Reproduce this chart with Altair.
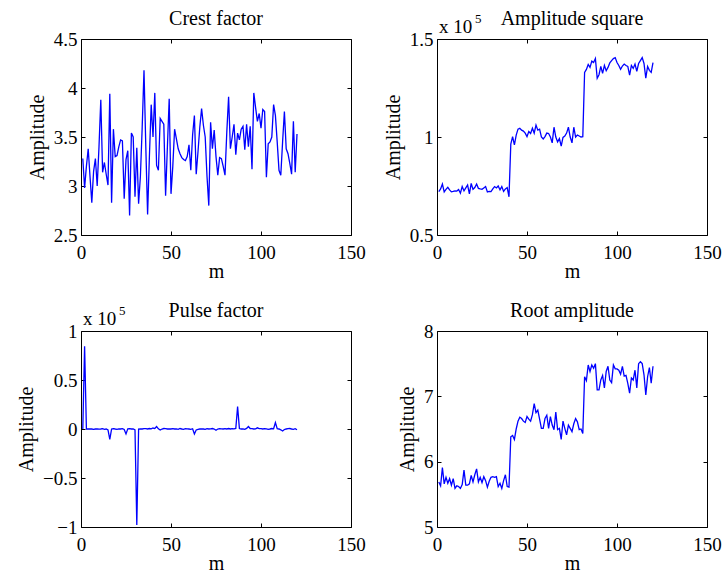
import altair as alt
import pandas as pd

# ---------------- data ----------------
m = list(range(1, 121))

crest = [3.28, 2.98, 3.20, 3.38, 3.10, 2.83, 3.15, 3.28, 3.00, 3.40,
         3.88, 3.14, 3.24, 3.12, 3.01, 3.94, 2.83, 3.58, 3.30, 3.31,
         3.40, 3.47, 3.46, 2.87, 3.27, 3.36, 2.70, 3.54, 3.50, 2.89,
         3.39, 2.82, 3.10, 3.60, 4.18, 3.40, 2.71, 3.30, 3.83, 3.50,
         3.95, 3.21, 3.16, 3.69, 3.66, 3.63, 2.90, 3.40, 3.89, 2.92,
         3.20, 3.58, 3.48, 3.38, 3.33, 3.29, 3.27, 3.26, 3.30, 3.42,
         3.16, 3.52, 3.72, 3.12, 3.35, 3.60, 3.79, 3.62, 3.50, 3.10,
         2.80, 3.65, 3.38, 3.57, 3.30, 3.11, 3.29, 3.28, 3.20, 3.11,
         3.55, 3.91, 3.38, 3.50, 3.63, 3.32, 3.54, 3.47, 3.58, 3.61,
         3.37, 3.63, 3.40, 3.61, 3.17, 3.95, 3.80, 3.66, 3.74, 3.59,
         3.78, 3.76, 3.09, 3.43, 3.45, 3.50, 3.83, 3.72, 3.45, 3.16,
         3.11, 3.45, 3.76, 3.38, 3.33, 3.23, 3.12, 3.66, 3.14, 3.53]

amp_square = [0.721, 0.735, 0.760, 0.720, 0.733, 0.743, 0.730, 0.720, 0.722, 0.725,
              0.724, 0.732, 0.713, 0.747, 0.725, 0.740, 0.755, 0.710, 0.763, 0.733,
              0.742, 0.760, 0.738, 0.735, 0.733, 0.740, 0.747, 0.720, 0.722, 0.721,
              0.735, 0.747, 0.740, 0.750, 0.730, 0.747, 0.722, 0.735, 0.742, 0.695,
              0.964, 1.002, 0.960, 1.010, 1.040, 1.044, 1.035, 1.030, 1.020, 1.002,
              1.028, 1.018, 1.045, 1.020, 1.061, 1.035, 1.040, 1.000, 0.990, 1.002,
              1.020, 1.018, 1.000, 0.970, 1.050, 1.000, 0.975, 0.992, 0.954, 0.998,
              1.005, 1.020, 1.050, 1.000, 0.970, 1.050, 1.000, 1.010, 1.005, 1.000,
              1.002, 1.330, 1.345, 1.370, 1.355, 1.387, 1.380, 1.400, 1.300, 1.318,
              1.360, 1.325, 1.365, 1.338, 1.355, 1.378, 1.390, 1.400, 1.405, 1.380,
              1.365, 1.345, 1.362, 1.372, 1.365, 1.360, 1.316, 1.365, 1.350, 1.372,
              1.335, 1.375, 1.390, 1.405, 1.375, 1.300, 1.360, 1.340, 1.330, 1.380]

pulse = [0.000, 0.845, 0.000, 0.000, 0.002, 0.000, -0.003, 0.000, 0.002, -0.002,
         0.000, 0.003, -0.004, 0.000, -0.010, -0.105, 0.000, 0.004, 0.000, -0.003,
         0.002, 0.000, 0.003, -0.005, -0.050, 0.002, 0.003, 0.000, 0.002, -0.010,
         -0.980, 0.000, 0.002, 0.000, 0.004, 0.003, 0.000, 0.005, 0.002, 0.010,
         0.005, 0.025, 0.002, -0.010, 0.000, 0.005, 0.003, 0.000, 0.002, 0.000,
         0.004, 0.000, 0.002, -0.003, 0.005, 0.000, -0.004, 0.003, 0.002, 0.000,
         -0.003, 0.003, -0.050, -0.010, -0.003, 0.000, 0.002, 0.000, -0.004, 0.003,
         0.000, 0.002, 0.005, 0.000, -0.012, 0.000, 0.004, 0.002, 0.000, 0.003,
         0.000, 0.005, 0.000, 0.004, 0.002, 0.005, 0.230, 0.005, 0.000, 0.002,
         -0.004, 0.006, 0.025, 0.005, 0.003, 0.000, 0.002, 0.012, 0.004, 0.003,
         0.000, 0.004, 0.002, -0.003, 0.000, 0.005, 0.002, 0.065, 0.003, 0.000,
         -0.008, -0.020, -0.005, 0.000, 0.003, 0.005, 0.000, -0.003, 0.003, -0.008]

root_amp = [5.69, 5.63, 5.91, 5.66, 5.76, 5.67, 5.74, 5.64, 5.74, 5.59,
            5.63, 5.62, 5.59, 5.65, 5.87, 5.64, 5.64, 5.66, 5.79, 5.69,
            5.80, 5.89, 5.69, 5.76, 5.68, 5.77, 5.71, 5.61, 5.70, 5.76,
            5.77, 5.76, 5.77, 5.62, 5.67, 5.59, 5.71, 5.80, 5.62, 5.61,
            6.38, 6.40, 6.34, 6.50, 6.62, 6.68, 6.66, 6.62, 6.60, 6.69,
            6.65, 6.62, 6.72, 6.89, 6.75, 6.79, 6.65, 6.51, 6.51, 6.66,
            6.71, 6.51, 6.69, 6.56, 6.49, 6.76, 6.49, 6.51, 6.34, 6.62,
            6.51, 6.41, 6.56, 6.51, 6.46, 6.58, 6.66, 6.61, 6.49, 6.50,
            6.43, 7.30, 7.24, 7.48, 7.38, 7.48, 7.43, 7.50, 7.10, 7.10,
            7.25, 7.32, 7.13, 7.38, 7.46, 7.25, 7.21, 7.48, 7.42, 7.42,
            7.40, 7.34, 7.46, 7.31, 7.32, 7.20, 7.05, 7.28, 7.25, 7.40,
            7.13, 7.50, 7.53, 7.50, 7.33, 7.02, 7.30, 7.44, 7.20, 7.46]

x_ticks = [0, 50, 100, 150]

# ---------------- styling ----------------
FONT = "Liberation Serif"
W, H = 270, 196
TICK = 4
LBL = 19
TTL = 20


def panel(values, ydomain, yticks, title, exponent=False):
    df = pd.DataFrame({"m": m, "v": values})
    xs = alt.Scale(domain=[0, 150], nice=False, zero=False)
    ys = alt.Scale(domain=ydomain, nice=False, zero=False)
    common = dict(tickSize=TICK, offset=-TICK, domain=False, grid=False,
                  tickColor="black", tickWidth=1)
    line = alt.Chart(df).mark_line(color="#0000ff", strokeWidth=1.3).encode(
        x=alt.X("m:Q", scale=xs,
                axis=alt.Axis(orient="bottom", values=x_ticks, format="~r",
                              labelPadding=8, labelFlush=False, title="m",
                              titleY=46, titleBaseline="alphabetic", **common)),
        y=alt.Y("v:Q", scale=ys,
                axis=alt.Axis(orient="left", values=yticks, format="~r",
                              labelPadding=4, title="Amplitude",
                              titlePadding=6, **common)),
    )
    ghost = alt.Chart(df).mark_line(strokeOpacity=0).encode(
        x=alt.X("m:Q", scale=xs,
                axis=alt.Axis(orient="top", values=x_ticks, labels=False,
                              title=None, **common)),
        y=alt.Y("v:Q", scale=ys,
                axis=alt.Axis(orient="right", values=yticks, labels=False,
                              title=None, **common)),
    )
    ttl = alt.Chart(pd.DataFrame({"t": [title]})).mark_text(
        font=FONT, fontSize=TTL, align="center", baseline="alphabetic",
        color="black").encode(text="t:N", x=alt.value(W / 2), y=alt.value(-14))
    layers = [line, ghost, ttl]
    if exponent:
        ex = alt.Chart(pd.DataFrame({"t": ["x 10"]})).mark_text(
            font=FONT, fontSize=LBL, align="left", baseline="alphabetic",
            color="black").encode(text="t:N", x=alt.value(2), y=alt.value(-6))
        sup = alt.Chart(pd.DataFrame({"t": ["5"]})).mark_text(
            font=FONT, fontSize=13, align="left", baseline="alphabetic",
            color="black").encode(text="t:N", x=alt.value(38), y=alt.value(-16))
        layers += [ex, sup]
    return alt.layer(*layers).resolve_axis(x="independent", y="independent").properties(
        width=W, height=H)


p1 = panel(crest, [2.5, 4.5], [2.5, 3, 3.5, 4, 4.5], "Crest factor")
p2 = panel(amp_square, [0.5, 1.5], [0.5, 1, 1.5], "Amplitude square", exponent=True)
p3 = panel(pulse, [-1, 1], [-1, -0.5, 0, 0.5, 1], "Pulse factor", exponent=True)
p4 = panel(root_amp, [5, 8], [5, 6, 7, 8], "Root amplitude")

chart = alt.concat(
    p1, p2, p3, p4, columns=2, spacing={"row": 96, "column": 86}, bounds="flush"
).properties(
    autosize=alt.AutoSizeParams(type="none"),
    padding={"left": 81, "top": 39, "right": 647, "bottom": 538},
    background="white",
).configure_view(
    stroke="black", strokeWidth=1
).configure_axis(
    labelFont=FONT, titleFont=FONT, labelFontSize=LBL, titleFontSize=TTL,
    labelColor="black", titleColor="black", titleFontWeight="normal",
)

chart.save("out.html", embed_options={"renderer": "svg", "actions": False})
